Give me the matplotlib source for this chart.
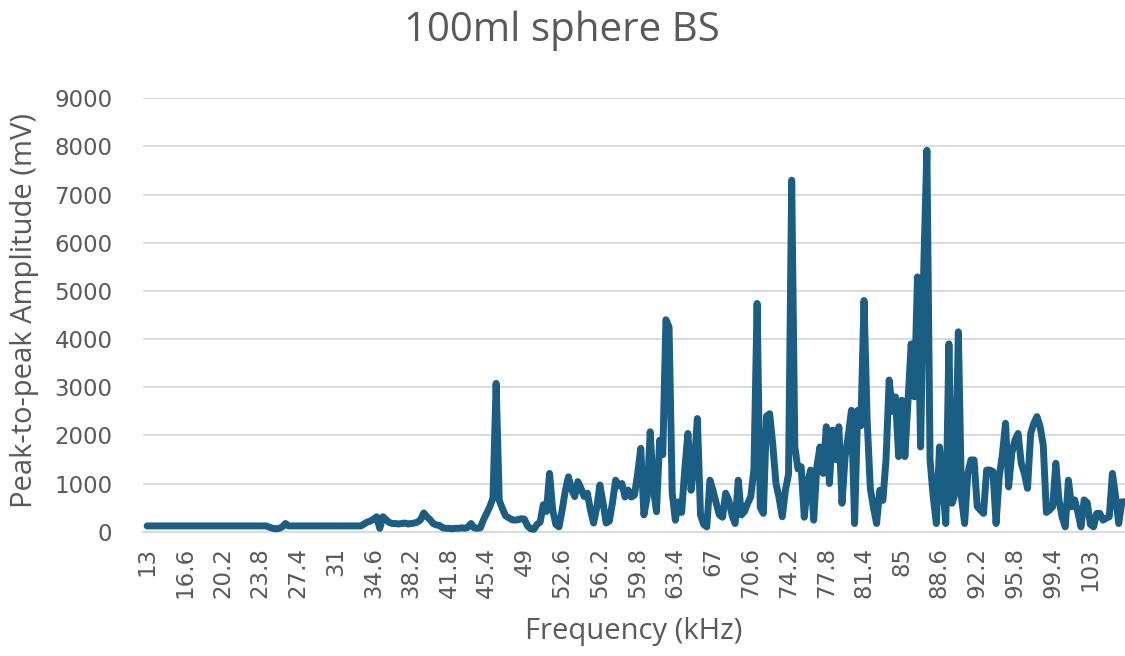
import matplotlib
matplotlib.use("Agg")
import matplotlib.pyplot as plt
import numpy as np

# ---- data ----
title = "100ml sphere BS"
x_label = "Frequency (kHz)"
y_label = "Peak-to-peak Amplitude (mV)"

# categories: frequency in kHz, 0.3 kHz spacing from 13 kHz
frequency_khz = np.round(13 + 0.3 * np.arange(312), 1)

amplitude_mv = [
    120, 120, 120, 120, 120, 120, 120, 120, 120, 120, 120, 120,
    120, 120, 120, 120, 120, 120, 120, 120, 120, 120, 120, 120,
    120, 120, 120, 120, 120, 120, 120, 120, 120, 120, 120, 120,
    120, 120, 120, 90, 70, 60, 70, 100, 170, 120, 120, 120,
    120, 120, 120, 120, 120, 120, 120, 120, 120, 120, 120, 120,
    120, 120, 120, 120, 120, 120, 120, 120, 120, 160, 200, 220,
    260, 310, 70, 310, 250, 190, 170, 170, 160, 170, 180, 160,
    170, 180, 200, 250, 390, 310, 250, 170, 140, 130, 80, 70,
    70, 60, 70, 70, 80, 70, 90, 170, 80, 70, 80, 250,
    380, 520, 700, 3080, 650, 480, 330, 290, 250, 240, 250, 270,
    260, 120, 60, 50, 150, 200, 560, 420, 1210, 450, 150, 100,
    450, 850, 1140, 880, 730, 1040, 900, 730, 800, 450, 180, 500,
    970, 600, 180, 220, 600, 1070, 950, 1000, 720, 865, 720, 760,
    1200, 1730, 350, 700, 2075, 900, 415, 1900, 1600, 4400, 4250, 800,
    240, 620, 400, 1300, 2040, 860, 1400, 2350, 350, 150, 100, 1070,
    850, 590, 350, 300, 800, 650, 350, 170, 1070, 350, 420, 590,
    730, 1300, 4740, 500, 380, 2400, 2450, 1800, 1000, 700, 310, 860,
    1200, 7300, 1760, 1300, 1350, 300, 1000, 1280, 240, 1350, 1760, 1210,
    2180, 1000, 2110, 1500, 2180, 590, 1560, 2000, 2520, 170, 2520, 2200,
    4800, 2320, 900, 500, 170, 860, 650, 1500, 3150, 2500, 2800, 1560,
    2730, 1560, 2730, 3900, 2800, 5290, 1760, 5500, 7920, 1490, 730, 170,
    1760, 1000, 170, 3900, 590, 800, 4150, 700, 170, 1210, 1490, 1490,
    520, 450, 380, 1280, 1280, 1250, 170, 1140, 1600, 2250, 930, 1630,
    1900, 2040, 1420, 1210, 900, 2040, 2250, 2390, 2180, 1800, 400, 450,
    520, 1420, 660, 300, 100, 1070, 520, 660, 400, 100, 660, 600,
    150, 100, 380, 380, 240, 280, 310, 1210, 730, 170, 620, 620,
]

label_every = 12  # one tick label every 3.6 kHz
y_ticks = [0, 1000, 2000, 3000, 4000, 5000, 6000, 7000, 8000, 9000]

# ---- drawing ----
plt.rcParams["font.family"] = ["Open Sans", "DejaVu Sans"]
W, H = 1125, 656
fig = plt.figure(figsize=(W / 100, H / 100), dpi=100)
left, right, top, bottom = 143, 1125, 98.3, 531.7
ax = fig.add_axes([left / W, 1 - bottom / H, (right - left) / W, (bottom - top) / H])

pos = np.arange(len(amplitude_mv))
ax.plot(pos, amplitude_mv, color="#1B5E84", lw=5,
        solid_joinstyle="round", solid_capstyle="round", clip_on=False, zorder=3)

ax.set_xlim(-1.3, len(amplitude_mv) - 1)
ax.set_ylim(y_ticks[0], y_ticks[-1])
ax.set_yticks(y_ticks)
ax.set_yticklabels([str(v) for v in y_ticks])
tick_pos = pos[::label_every]
ax.set_xticks(tick_pos)
ax.set_xticklabels([f"{frequency_khz[i]:g}" for i in tick_pos], rotation=90)

ax.grid(axis="y", color="#D9D9D9", lw=1.3)
ax.set_axisbelow(True)
for s in ["top", "right", "left"]:
    ax.spines[s].set_visible(False)
ax.spines["bottom"].set_color("#D9D9D9")
ax.spines["bottom"].set_linewidth(1.3)
ax.tick_params(length=0, labelcolor="#595959")
for lab in ax.get_xticklabels() + ax.get_yticklabels():
    lab.set_fontfamily(["DejaVu Sans"])
    lab.set_fontsize(16.5)
ax.tick_params(axis="x", pad=11)
ax.tick_params(axis="y", pad=22)

fig.text(562 / W, 1 - 31 / H, title, ha="center", va="center",
         fontsize=29, color="#595959")
fig.text(634 / W, 1 - 631 / H, x_label, ha="center", va="center",
         fontsize=21, color="#595959")
fig.text(25 / W, 1 - 311 / H, y_label, ha="center", va="center",
         rotation=90, fontsize=21, color="#595959")

fig.savefig("out.png", dpi=100)
